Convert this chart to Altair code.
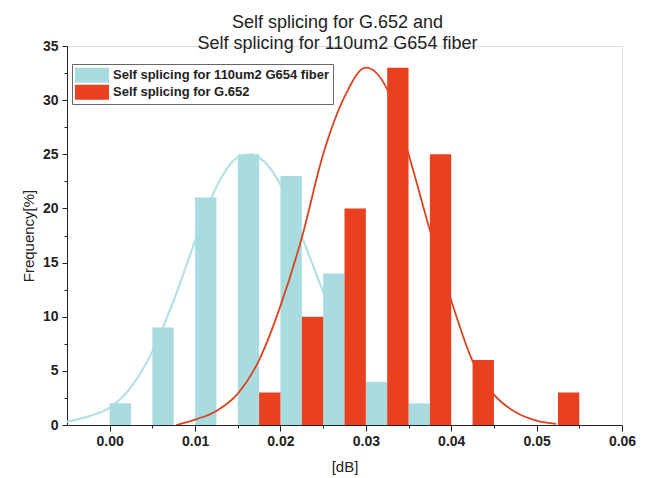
import altair as alt
import pandas as pd

# ---- data ----
series_names = ["Self splicing for 110um2 G654 fiber", "Self splicing for G.652"]

cyan_bin_start = [0.000, 0.005, 0.010, 0.015, 0.020, 0.025, 0.030, 0.035]
cyan_freq = [2, 9, 21, 25, 23, 14, 4, 2]

red_bin_start = [0.0175, 0.0225, 0.0275, 0.0325, 0.0375, 0.0425, 0.0525]
red_freq = [3, 10, 20, 33, 25, 6, 3]

cyan_curve_x = [-0.005, -0.0025, 0.0, 0.0025, 0.005, 0.0075, 0.010, 0.0125, 0.015,
                0.0165, 0.0175, 0.020, 0.0225, 0.025, 0.0275, 0.030, 0.0325, 0.035]
cyan_curve_y = [0.3, 0.8, 1.6, 3.5, 6.8, 11.5, 17.0, 22.0, 24.7,
                25.0, 24.7, 22.2, 17.4, 12.3, 7.5, 3.8, 1.7, 0.6]

red_curve_x = [0.0078, 0.010, 0.0125, 0.015, 0.0175, 0.020, 0.0225, 0.025, 0.0275,
               0.030, 0.0325, 0.035, 0.0375, 0.040, 0.0425, 0.045, 0.0475, 0.050, 0.0523]
red_curve_y = [0.0, 0.5, 1.3, 2.9, 6.0, 11.0, 17.3, 25.0, 30.3,
               33.0, 31.0, 25.0, 18.0, 11.5, 5.9, 2.8, 1.2, 0.4, 0.1]

x_ticks = [0.0, 0.005, 0.01, 0.015, 0.02, 0.025, 0.03, 0.035, 0.04, 0.045, 0.05, 0.055, 0.06]
y_ticks = [0, 2.5, 5, 7.5, 10, 12.5, 15, 17.5, 20, 22.5, 25, 27.5, 30, 32.5, 35]

BAR_W = 0.0025
FONT = "Liberation Sans"
CYAN = "#a8dce0"
RED = "#e9401f"

cyan_bars_df = pd.DataFrame({"start": cyan_bin_start, "freq": cyan_freq, "series": series_names[0]})
red_bars_df = pd.DataFrame({"start": red_bin_start, "freq": red_freq, "series": series_names[1]})
cyan_curve_df = pd.DataFrame({"x": cyan_curve_x, "y": cyan_curve_y})
red_curve_df = pd.DataFrame({"x": red_curve_x, "y": red_curve_y})

x_scale = alt.Scale(domain=[-0.005, 0.06], nice=False, zero=False)
y_scale = alt.Scale(domain=[0, 35], nice=False)

major_x = "abs(datum.value*100 - round(datum.value*100)) < 0.001"
major_y = "abs(datum.value/5 - round(datum.value/5)) < 0.001"

x_axis = alt.Axis(
    values=x_ticks, title="[dB]",
    labelExpr=f"({major_x}) ? format(datum.value, '.2f') : ''",
    tickSize={"condition": {"test": major_x, "value": 6}, "value": 3},
    labelFont=FONT, labelFontSize=14, labelFontWeight="bold", labelColor="#222",
    titleFont=FONT, titleFontSize=15, titleFontWeight="normal", titleColor="#222",
    labelPadding=3, titlePadding=11, domainColor="#222", tickColor="#222",
    labelFlush=False, labelOverlap=False, grid=False,
)
y_axis = alt.Axis(
    values=y_ticks, title="Frequency[%]",
    labelExpr=f"({major_y}) ? format(datum.value, 'd') : ''",
    tickSize={"condition": {"test": major_y, "value": 5}, "value": 3},
    labelFont=FONT, labelFontSize=14, labelFontWeight="bold", labelColor="#222",
    titleFont=FONT, titleFontSize=15, titleFontWeight="normal", titleColor="#222",
    labelPadding=4, titlePadding=6, domainColor="#222", tickColor="#222",
    labelFlush=False, labelOverlap=False, grid=False,
)

color = alt.Color(
    "series:N",
    scale=alt.Scale(domain=series_names, range=[CYAN, RED]),
    legend=alt.Legend(
        title=None, orient="none", legendX=5, legendY=18,
        symbolType="M-1,-0.44L1,-0.44L1,0.44L-1,0.44Z", symbolSize=1156,
        symbolStrokeWidth=0, symbolOpacity=1, clipHeight=16.5, rowPadding=0,
        labelFont=FONT, labelFontSize=13, labelFontWeight="bold", labelColor="#222",
        labelOffset=4, labelLimit=400,
        strokeColor="#666", padding=3, fillColor="white",
    ),
)

cyan_curve = alt.Chart(cyan_curve_df).mark_line(
    interpolate="monotone", color="#b3e1e5", strokeWidth=2.2, clip=True
).encode(x=alt.X("x:Q", scale=x_scale, axis=x_axis), y=alt.Y("y:Q", scale=y_scale, axis=y_axis))

red_curve = alt.Chart(red_curve_df).mark_line(
    interpolate="monotone", color="#d9431e", strokeWidth=1.8, clip=True
).encode(x=alt.X("x:Q", scale=x_scale, axis=x_axis), y=alt.Y("y:Q", scale=y_scale, axis=y_axis))

def bars(df):
    return alt.Chart(df).transform_calculate(end=f"datum.start + {BAR_W}").mark_bar(
        opacity=1, stroke=None
    ).encode(
        x=alt.X("start:Q", scale=x_scale, axis=x_axis),
        x2="end:Q",
        y=alt.Y("freq:Q", scale=y_scale, axis=y_axis),
        y2=alt.datum(0),
        color=color,
    )

chart = alt.layer(cyan_curve, bars(cyan_bars_df), red_curve, bars(red_bars_df)).properties(
    width=555, height=379,
    title=alt.Title(
        ["Self splicing for G.652 and", "Self splicing for 110um2 G654 fiber"],
        font=FONT, fontSize=18, fontWeight="normal", color="#222",
        lineHeight=21, anchor="middle", dx=-7, dy=18,
    ),
    autosize=alt.AutoSizeParams(type="none"),
    padding={"left": 67, "top": 46, "right": 28, "bottom": 53},
).configure_view(stroke=None).configure(background="white")

chart.save("out.html", embed_options={"renderer": "svg", "actions": False})
